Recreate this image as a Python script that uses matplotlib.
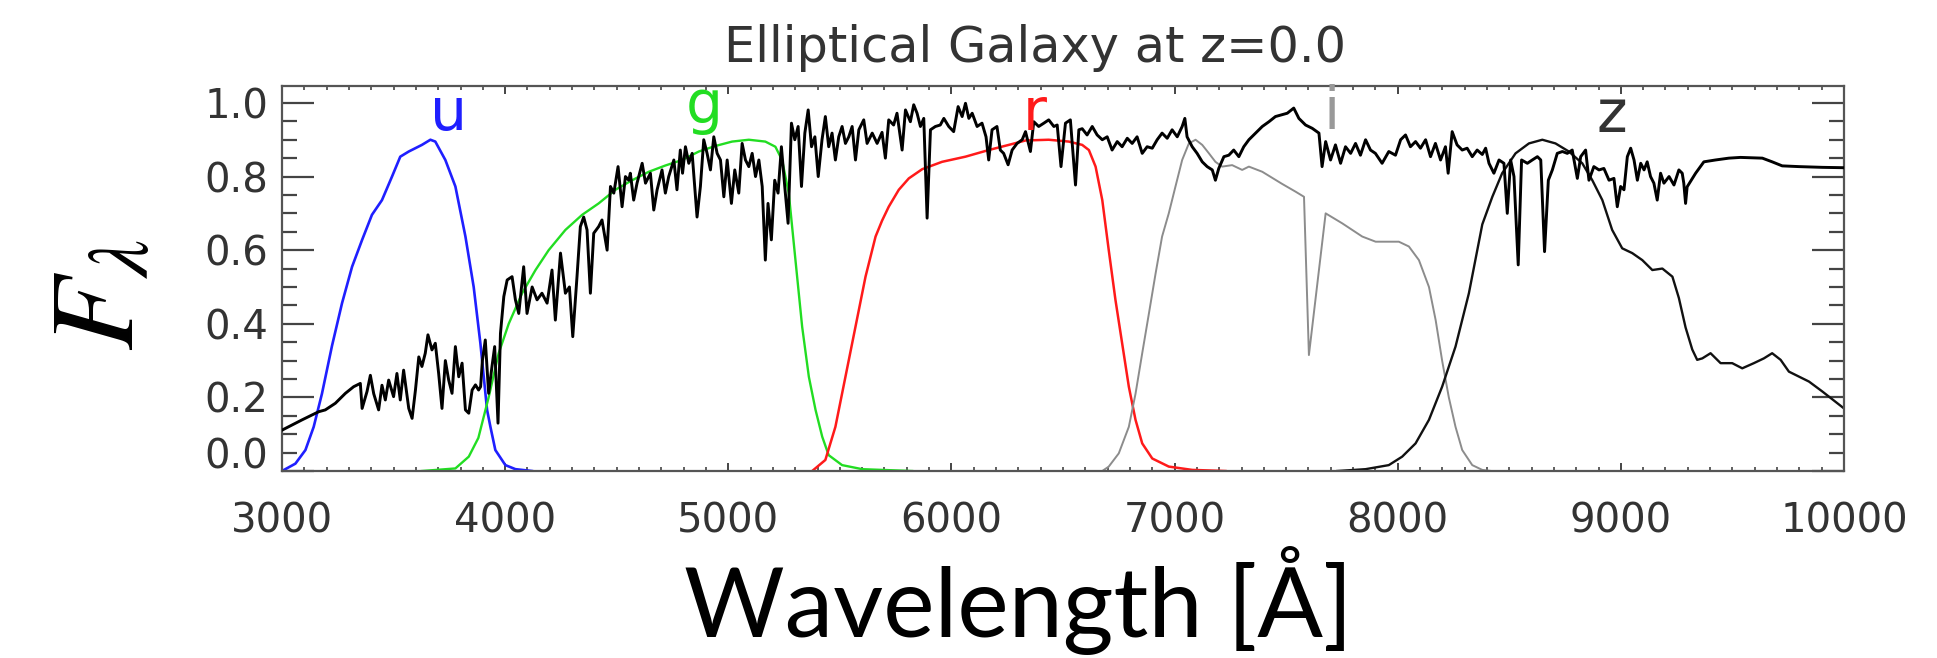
import matplotlib
matplotlib.use('Agg')
import matplotlib.pyplot as plt
from matplotlib.ticker import MultipleLocator, FixedLocator, FixedFormatter

plt.rcParams['mathtext.fontset'] = 'stix'

# ---------------- data ----------------
gal_wave = [3000, 3090, 3164, 3194, 3239, 3284, 3321, 3351, 3359, 3381, 3396, 3411, 3433, 3448, 3463, 3478,
            3500, 3515, 3530, 3545, 3568, 3583, 3598, 3613, 3627, 3642, 3654, 3672, 3687, 3702, 3717, 3732,
            3747, 3762, 3777, 3792, 3807, 3822, 3837, 3852, 3867, 3881, 3890, 3898, 3911, 3926, 3941, 3953,
            3968, 3979, 3994, 4009, 4031, 4046, 4061, 4083, 4098, 4121, 4143, 4165, 4188, 4210, 4225, 4248,
            4270, 4288, 4303, 4322, 4337, 4352, 4367, 4382, 4397, 4419, 4434, 4457, 4472, 4487, 4506, 4524,
            4539, 4554, 4561, 4576, 4591, 4614, 4629, 4651, 4666, 4681, 4703, 4718, 4733, 4756, 4770, 4785,
            4795, 4808, 4823, 4838, 4860, 4875, 4890, 4905, 4920, 4935, 4950, 4965, 4980, 4995, 5014, 5029,
            5047, 5062, 5077, 5092, 5107, 5122, 5137, 5152, 5166, 5178, 5193, 5208, 5223, 5238, 5253, 5268,
            5283, 5298, 5313, 5328, 5343, 5358, 5373, 5388, 5403, 5420, 5435, 5450, 5465, 5480, 5495, 5510,
            5525, 5540, 5555, 5570, 5585, 5607, 5622, 5645, 5667, 5689, 5704, 5719, 5741, 5756, 5779, 5794,
            5816, 5831, 5846, 5861, 5876, 5891, 5906, 5928, 5950, 5966, 5988, 6010, 6030, 6048, 6063, 6078,
            6093, 6115, 6137, 6155, 6167, 6182, 6204, 6219, 6234, 6254, 6272, 6294, 6317, 6332, 6354, 6369,
            6391, 6414, 6436, 6459, 6474, 6491, 6511, 6533, 6556, 6571, 6586, 6608, 6631, 6653, 6676, 6698,
            6720, 6743, 6765, 6788, 6810, 6832, 6855, 6877, 6900, 6922, 6944, 6967, 6989, 7012, 7034, 7046,
            7056, 7079, 7101, 7124, 7146, 7169, 7183, 7198, 7221, 7243, 7265, 7288, 7310, 7333, 7363, 7393,
            7423, 7452, 7482, 7505, 7534, 7557, 7587, 7617, 7647, 7661, 7677, 7699, 7721, 7744, 7766, 7789,
            7811, 7833, 7856, 7878, 7900, 7930, 7960, 7990, 8013, 8035, 8057, 8080, 8102, 8125, 8147, 8169,
            8192, 8214, 8226, 8244, 8266, 8289, 8311, 8334, 8356, 8379, 8394, 8409, 8431, 8454, 8476, 8491,
            8506, 8521, 8540, 8555, 8581, 8603, 8626, 8641, 8658, 8675, 8693, 8715, 8738, 8760, 8782, 8805,
            8820, 8842, 8857, 8879, 8902, 8924, 8947, 8969, 8984, 8999, 9014, 9029, 9044, 9059, 9074, 9089,
            9104, 9118, 9133, 9148, 9163, 9178, 9193, 9216, 9238, 9260, 9275, 9282, 9290, 9297, 9335, 9372,
            9424, 9484, 9536, 9634, 9678, 9723, 9798, 9903, 10000]
gal_flux = [0.111, 0.139, 0.161, 0.166, 0.184, 0.211, 0.229, 0.238, 0.17, 0.216, 0.26, 0.21, 0.166, 0.233, 0.193, 0.247,
            0.202, 0.265, 0.193, 0.274, 0.17, 0.143, 0.22, 0.31, 0.284, 0.32, 0.37, 0.329, 0.347, 0.265, 0.17, 0.30,
            0.247, 0.211, 0.338, 0.256, 0.293, 0.166, 0.157, 0.22, 0.234, 0.22, 0.229, 0.30, 0.356, 0.211, 0.284, 0.338,
            0.13, 0.374, 0.474, 0.519, 0.528, 0.465, 0.428, 0.555, 0.428, 0.50, 0.465, 0.483, 0.456, 0.546, 0.41, 0.592,
            0.483, 0.50, 0.365, 0.528, 0.664, 0.69, 0.655, 0.483, 0.646, 0.664, 0.682, 0.60, 0.773, 0.755, 0.827, 0.718,
            0.80, 0.79, 0.809, 0.736, 0.782, 0.836, 0.782, 0.809, 0.709, 0.764, 0.818, 0.755, 0.80, 0.845, 0.764, 0.872,
            0.809, 0.881, 0.836, 0.863, 0.69, 0.773, 0.90, 0.863, 0.818, 0.908, 0.863, 0.845, 0.745, 0.845, 0.727, 0.818,
            0.755, 0.89, 0.845, 0.827, 0.863, 0.80, 0.845, 0.773, 0.573, 0.727, 0.628, 0.79, 0.755, 0.881, 0.773, 0.673,
            0.945, 0.90, 0.936, 0.773, 0.918, 0.981, 0.881, 0.908, 0.80, 0.90, 0.963, 0.881, 0.918, 0.845, 0.908, 0.936,
            0.89, 0.908, 0.936, 0.845, 0.927, 0.954, 0.89, 0.918, 0.89, 0.92, 0.85, 0.954, 0.94, 0.972, 0.872, 0.981,
            0.949, 0.995, 0.972, 0.936, 0.958, 0.687, 0.927, 0.936, 0.94, 0.958, 0.936, 0.922, 0.99, 0.963, 0.999, 0.958,
            0.972, 0.936, 0.945, 0.908, 0.845, 0.927, 0.936, 0.872, 0.863, 0.832, 0.872, 0.89, 0.90, 0.922, 0.868, 0.949,
            0.936, 0.945, 0.954, 0.936, 0.94, 0.827, 0.945, 0.954, 0.777, 0.927, 0.93, 0.913, 0.936, 0.913, 0.90, 0.908,
            0.872, 0.895, 0.881, 0.904, 0.89, 0.908, 0.863, 0.881, 0.877, 0.90, 0.918, 0.904, 0.927, 0.908, 0.936, 0.958,
            0.908, 0.881, 0.863, 0.84, 0.827, 0.818, 0.79, 0.822, 0.854, 0.858, 0.872, 0.854, 0.881, 0.90, 0.918, 0.936,
            0.949, 0.963, 0.968, 0.972, 0.986, 0.958, 0.94, 0.931, 0.918, 0.827, 0.895, 0.845, 0.886, 0.836, 0.881, 0.863,
            0.89, 0.858, 0.90, 0.872, 0.863, 0.836, 0.868, 0.858, 0.90, 0.913, 0.881, 0.895, 0.877, 0.90, 0.854, 0.89,
            0.845, 0.881, 0.809, 0.922, 0.886, 0.872, 0.877, 0.854, 0.872, 0.86, 0.877, 0.836, 0.809, 0.845, 0.836, 0.70,
            0.845, 0.80, 0.56, 0.845, 0.836, 0.845, 0.854, 0.845, 0.596, 0.79, 0.818, 0.863, 0.868, 0.863, 0.872, 0.795,
            0.854, 0.872, 0.79, 0.827, 0.818, 0.822, 0.79, 0.795, 0.718, 0.773, 0.764, 0.854, 0.877, 0.845, 0.79, 0.836,
            0.818, 0.84, 0.80, 0.782, 0.736, 0.809, 0.782, 0.80, 0.777, 0.818, 0.809, 0.782, 0.727, 0.772, 0.809, 0.84,
            0.845, 0.85, 0.852, 0.85, 0.84, 0.829, 0.827, 0.825, 0.824]

u_wave = [3000, 3060, 3105, 3142, 3179, 3224, 3269, 3314, 3359, 3403, 3448, 3493, 3530, 3568, 3627, 3665,
          3687, 3732, 3777, 3822, 3859, 3889, 3919, 3934, 3956, 4001, 4046, 4120]
u_resp = [0.0, 0.02, 0.057, 0.12, 0.21, 0.34, 0.456, 0.555, 0.628, 0.696, 0.736, 0.80, 0.854, 0.868, 0.886, 0.90,
          0.895, 0.845, 0.773, 0.637, 0.50, 0.347, 0.166, 0.12, 0.057, 0.016, 0.005, 0.0]

g_wave = [3627, 3777, 3837, 3880, 3926, 3971, 4016, 4076, 4136, 4195, 4270, 4345, 4419, 4494, 4569, 4644,
          4718, 4793, 4868, 4942, 5017, 5092, 5166, 5211, 5241, 5271, 5301, 5331, 5361, 5391, 5421, 5450,
          5510, 5600, 5824]
g_resp = [0.0, 0.007, 0.039, 0.09, 0.20, 0.32, 0.40, 0.483, 0.546, 0.60, 0.655, 0.696, 0.727, 0.764, 0.79, 0.813,
          0.83, 0.845, 0.868, 0.883, 0.895, 0.90, 0.895, 0.881, 0.845, 0.755, 0.573, 0.392, 0.256, 0.166, 0.093, 0.043,
          0.016, 0.005, 0.0]

r_wave = [5376, 5435, 5480, 5525, 5570, 5615, 5660, 5689, 5719, 5764, 5809, 5869, 5958, 6063, 6167, 6257,
          6332, 6436, 6526, 6586, 6616, 6646, 6676, 6705, 6735, 6765, 6795, 6825, 6855, 6900, 6974, 7079, 7228]
r_resp = [0.0, 0.03, 0.12, 0.256, 0.392, 0.528, 0.637, 0.68, 0.718, 0.764, 0.795, 0.82, 0.84, 0.854, 0.872, 0.886,
          0.898, 0.90, 0.895, 0.886, 0.872, 0.827, 0.736, 0.60, 0.465, 0.347, 0.229, 0.139, 0.075, 0.034, 0.012, 0.003, 0.0]

i_wave = [6676, 6705, 6750, 6795, 6825, 6855, 6885, 6915, 6944, 6974, 7004, 7034, 7064, 7094, 7124, 7154,
          7183, 7213, 7258, 7303, 7333, 7393, 7482, 7542, 7580, 7602, 7677, 7751, 7841, 7901, 8005, 8050,
          8095, 8140, 8170, 8199, 8229, 8259, 8289, 8334, 8379, 8420]
i_resp = [0.0, 0.012, 0.048, 0.12, 0.21, 0.32, 0.428, 0.537, 0.637, 0.70, 0.773, 0.845, 0.89, 0.90, 0.886, 0.863,
          0.84, 0.827, 0.831, 0.818, 0.827, 0.813, 0.78, 0.759, 0.745, 0.315, 0.70, 0.673, 0.637, 0.623, 0.623, 0.61,
          0.573, 0.50, 0.41, 0.30, 0.20, 0.12, 0.057, 0.016, 0.003, 0.0]

z_wave = [7729, 7856, 7960, 8020, 8080, 8140, 8199, 8259, 8319, 8379, 8424, 8468, 8528, 8588, 8648, 8707,
          8767, 8827, 8872, 8917, 8961, 9006, 9051, 9096, 9141, 9186, 9231, 9260, 9290, 9320, 9342, 9365,
          9402, 9447, 9499, 9544, 9596, 9641, 9678, 9716, 9753, 9843, 9903, 10000]
z_resp = [0.0, 0.005, 0.016, 0.039, 0.075, 0.139, 0.229, 0.338, 0.483, 0.67, 0.745, 0.809, 0.863, 0.89, 0.90, 0.89,
          0.868, 0.836, 0.79, 0.736, 0.655, 0.605, 0.592, 0.573, 0.546, 0.55, 0.528, 0.47, 0.39, 0.33, 0.302, 0.306,
          0.32, 0.293, 0.293, 0.279, 0.293, 0.306, 0.32, 0.302, 0.27, 0.243, 0.216, 0.17]

band_names = ['u', 'g', 'r', 'i', 'z']
band_label_wave = [3744, 4892, 6373, 7706, 8961]
band_label_flux = [0.927, 0.946, 0.927, 0.93, 0.922]
band_colors = ['#1f1fff', '#22dd22', '#ff1a1a', '#999999', '#333333']

y_ticks = [0.0, 0.2, 0.4, 0.6, 0.8, 1.0]
y_ticklabels = ['', '0.2', '0.4', '0.6', '0.8', '1.0']
x_ticks = [3000, 4000, 5000, 6000, 7000, 8000, 9000, 10000]
x_ticklabels = ['3000', '4000', '5000', '6000', '7000', '8000', '9000', '10000']

title = 'Elliptical Galaxy at z=0.0'
xlabel = 'Wavelength [Å]'
ylabel = r'$F_\lambda$'

# ---------------- figure ----------------
fig = plt.figure(figsize=(19.37, 6.58), dpi=100)
ax = fig.add_axes([0.14559, 0.28419, 0.80640, 0.58511])

ax.plot(u_wave, u_resp, color=band_colors[0], lw=1.9, zorder=2)
ax.plot(g_wave, g_resp, color=band_colors[1], lw=1.7, zorder=2)
ax.plot(r_wave, r_resp, color=band_colors[2], lw=1.8, zorder=2)
ax.plot(i_wave, i_resp, color='#8c8c8c', lw=1.4, zorder=2)
ax.plot(z_wave, z_resp, color='#111111', lw=1.7, zorder=2)
ax.plot(gal_wave, gal_flux, color='black', lw=2.1, zorder=3)

for name, wl, fl, col in zip(band_names, band_label_wave, band_label_flux, band_colors):
    ax.text(wl, fl, name, color=col, fontsize=42, ha='center', va='baseline', clip_on=False)

ax.set_xlim(3000, 10000)
ax.set_ylim(0, 1.046)
ax.xaxis.set_major_locator(FixedLocator(x_ticks))
ax.xaxis.set_major_formatter(FixedFormatter(x_ticklabels))
ax.xaxis.set_minor_locator(MultipleLocator(100))
ax.yaxis.set_major_locator(FixedLocator(y_ticks))
ax.yaxis.set_major_formatter(FixedFormatter(y_ticklabels))
ax.yaxis.set_minor_locator(MultipleLocator(0.05))

ax.tick_params(which='both', direction='in', top=True, right=True, color='#444444')
ax.tick_params(axis='y', which='major', length=23, width=1.6)
ax.tick_params(axis='y', which='minor', length=11, width=1.6)
ax.tick_params(axis='x', which='major', length=6, width=1.4)
ax.tick_params(axis='x', which='minor', length=3, width=1.2)
ax.tick_params(axis='x', labelsize=29, pad=22, labelcolor='#333333')
ax.tick_params(axis='y', labelsize=29, pad=10, labelcolor='#333333')
for s in ax.spines.values():
    s.set_color('#555555')
    s.set_linewidth(1.6)

# the zero label sits raised above the bottom frame
ax.annotate('0.0', xy=(0, 0), xycoords='axes fraction', xytext=(-10, 10),
            textcoords='offset points', ha='right', va='center', fontsize=29, color='#333333')

fig.text(0.5343, 0.9058, title, ha='center', va='baseline', fontsize=35.6, color='#333333')
fig.text(0.0514, 0.5517, ylabel, rotation=90, ha='center', va='center', fontsize=87)
fig.text(0.5258, 0.0315, xlabel, ha='center', va='baseline', fontsize=70, family='Lato')

fig.savefig('out.png', dpi=100)
